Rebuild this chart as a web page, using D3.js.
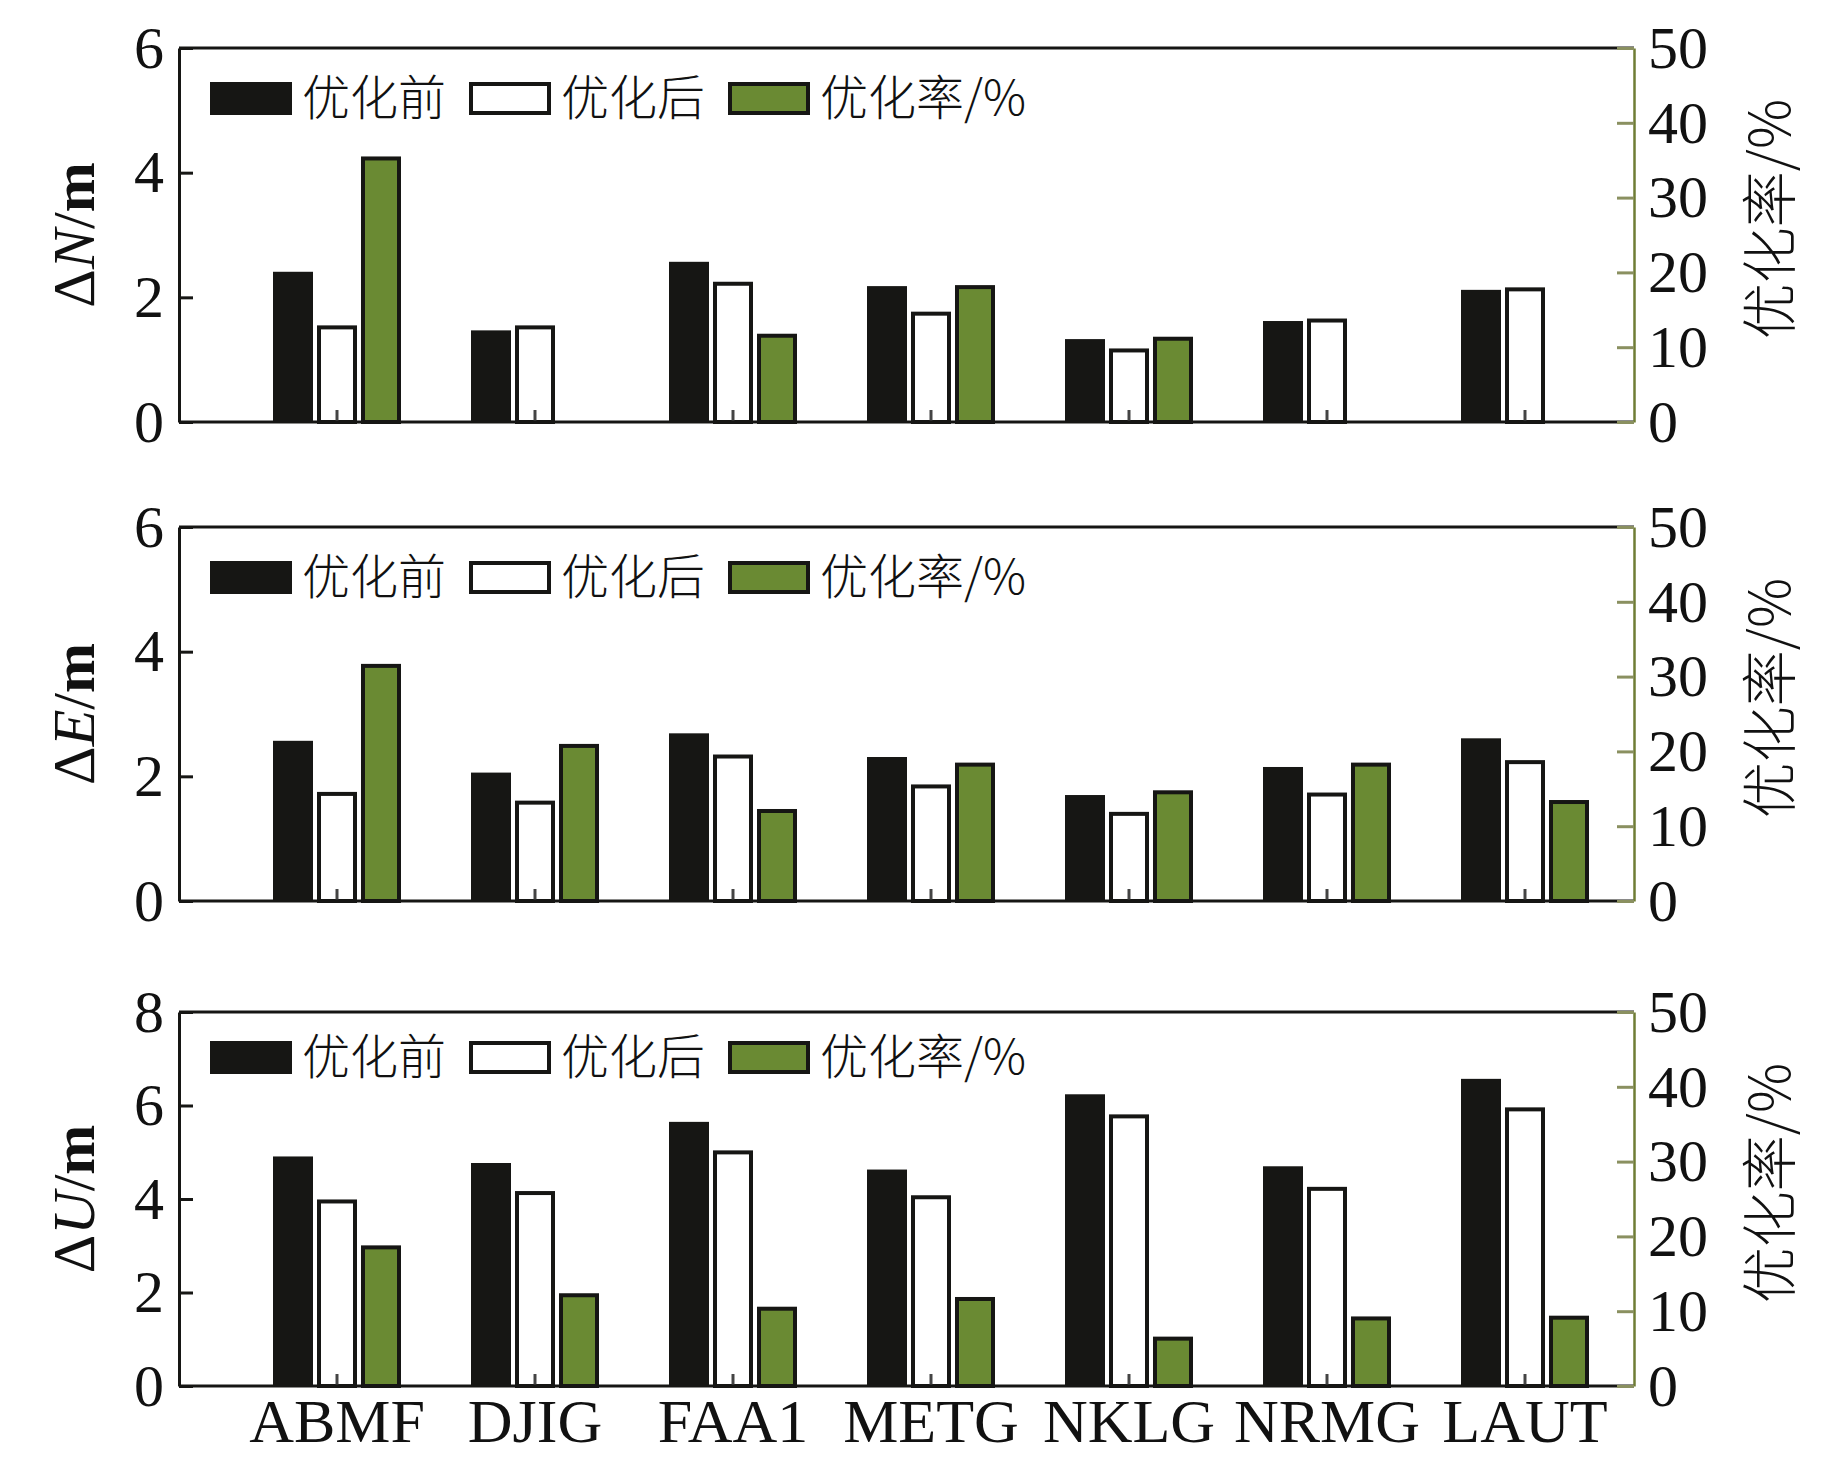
<!DOCTYPE html>
<html>
<head>
<meta charset="utf-8">
<script src="https://cdn.jsdelivr.net/npm/d3@7"></script>
<style>
  body { margin: 0; background: #fff; }
  .num { font-family: "Liberation Serif", "Times New Roman", serif; }
  .cjk { font-family: "Noto Sans CJK SC", sans-serif; font-weight: 300; }
</style>
</head>
<body>
<div id="chart"></div>
<script>
(function() {

  var width = 1843,
      height = 1465

  // data
  var categories = ["ABMF", "DJIG", "FAA1", "METG", "NKLG", "NRMG", "LAUT"]

  var nBefore = [2.41, 1.47, 2.57, 2.18, 1.33, 1.62, 2.12]
  var nAfter  = [1.55, 1.55, 2.25, 1.77, 1.18, 1.66, 2.16]
  var nRate   = [35.5, null, 11.8, 18.3, 11.4, null, null]

  var eBefore = [2.57, 2.06, 2.69, 2.31, 1.70, 2.15, 2.61]
  var eAfter  = [1.75, 1.61, 2.35, 1.87, 1.43, 1.74, 2.26]
  var eRate   = [31.7, 21.0, 12.3, 18.5, 14.8, 18.5, 13.5]

  var uBefore = [4.91, 4.77, 5.65, 4.63, 6.24, 4.70, 6.57]
  var uAfter  = [3.99, 4.17, 5.04, 4.08, 5.81, 4.26, 5.96]
  var uRate   = [18.8, 12.4, 10.6, 11.9, 6.6, 9.3, 9.4]

  var leftTicksNE = [0, 2, 4, 6]
  var leftTicksU = [0, 2, 4, 6, 8]
  var rightTicks = [0, 10, 20, 30, 40, 50]
  var legendLabels = ["优化前", "优化后", "优化率/%"]
  var rightTitle = "优化率/%"

  // layout
  var left = 179, right = 1634, panelH = 374
  var black = "#161614", green = "#6a8a33", olive = "#6f7d35"

  var panels = [
    { name: "N", before: nBefore, after: nAfter, rate: nRate, yMax: 6, ticks: leftTicksNE, top: 48, legendDy: 34, labels: false },
    { name: "E", before: eBefore, after: eAfter, rate: eRate, yMax: 6, ticks: leftTicksNE, top: 527, legendDy: 34, labels: false },
    { name: "U", before: uBefore, after: uAfter, rate: uRate, yMax: 8, ticks: leftTicksU, top: 1012, legendDy: 29, labels: true }
  ]

  var svg = d3.select("#chart")
    .append("svg")
    .attr("width", width)
    .attr("height", height)

  var xScale = d3.scaleBand().domain(categories).range([238, 1624])
  var subScale = d3.scaleBand().domain(["before", "after", "rate"]).range([-64, 64]).paddingInner(0.0909)
  var bw = subScale.bandwidth()
  var sw = 4
  var fmt = d3.format("d")

  function cx(c) { return xScale(c) + xScale.bandwidth() / 2 }

  panels.forEach(function(p) {
    var bottom = p.top + panelH
    var g = svg.append("g")

    var yScale = d3.scaleLinear().domain([0, p.yMax]).range([bottom, p.top])
    var rateScale = d3.scaleLinear().domain([0, 50]).range([bottom, p.top])

    // bars: before (solid black)
    g.selectAll(".before")
      .data(p.before)
      .enter().append("rect")
      .attr("x", function(d, i) { return cx(categories[i]) + subScale("before") })
      .attr("y", function(d) { return yScale(d) })
      .attr("width", bw)
      .attr("height", function(d) { return bottom - yScale(d) })
      .attr("fill", black)

    // after (white, outlined)
    g.selectAll(".after")
      .data(p.after)
      .enter().append("rect")
      .attr("x", function(d, i) { return cx(categories[i]) + subScale("after") + sw / 2 })
      .attr("y", function(d) { return yScale(d) + sw / 2 })
      .attr("width", bw - sw)
      .attr("height", function(d) { return bottom - yScale(d) - sw / 2 })
      .attr("fill", "#fff")
      .attr("stroke", black)
      .attr("stroke-width", sw)

    // optimisation rate (green, right axis)
    var rates = p.rate.map(function(d, i) { return { v: d, c: categories[i] } })
      .filter(function(d) { return d.v !== null })
    g.selectAll(".rate")
      .data(rates)
      .enter().append("rect")
      .attr("x", function(d) { return cx(d.c) + subScale("rate") + sw / 2 })
      .attr("y", function(d) { return rateScale(d.v) + sw / 2 })
      .attr("width", bw - sw)
      .attr("height", function(d) { return bottom - rateScale(d.v) - sw / 2 })
      .attr("fill", green)
      .attr("stroke", black)
      .attr("stroke-width", sw)

    // x axis: small inward ticks at the centres
    var xAxis = g.append("g")
      .attr("transform", "translate(0," + bottom + ")")
      .call(d3.axisBottom(xScale).tickSize(-12).tickPadding(12).tickFormat(p.labels ? null : ""))
    xAxis.select(".domain").remove()
    xAxis.selectAll(".tick line").attr("stroke", "#444").attr("stroke-width", 3)
    xAxis.selectAll("text")
      .attr("class", "num")
      .attr("font-size", 62)
      .attr("fill", "#111")

    // frame lines
    g.append("line")
      .attr("x1", left).attr("x2", right)
      .attr("y1", bottom).attr("y2", bottom)
      .attr("stroke", black).attr("stroke-width", 3)
    g.append("line")
      .attr("x1", left).attr("x2", right)
      .attr("y1", p.top).attr("y2", p.top)
      .attr("stroke", black).attr("stroke-width", 3)

    // left axis
    var yAxis = g.append("g")
      .attr("transform", "translate(" + left + ",0)")
      .call(d3.axisLeft(yScale).tickValues(p.ticks).tickFormat(fmt).tickSize(-14).tickSizeOuter(0).tickPadding(15))
    yAxis.select(".domain").attr("stroke", black).attr("stroke-width", 3)
    yAxis.selectAll(".tick line").attr("stroke", black).attr("stroke-width", 3)
    yAxis.selectAll("text")
      .attr("class", "num")
      .attr("font-size", 60)
      .attr("fill", "#111")

    // right axis
    var rAxis = g.append("g")
      .attr("transform", "translate(" + right + ",0)")
      .call(d3.axisRight(rateScale).tickValues(rightTicks).tickFormat(fmt).tickSize(-17).tickSizeOuter(0).tickPadding(14))
    rAxis.select(".domain").attr("stroke", olive).attr("stroke-width", 2.5)
    rAxis.selectAll(".tick line").attr("stroke", "#8a9060").attr("stroke-width", 3)
    rAxis.selectAll("text")
      .attr("class", "num")
      .attr("font-size", 60)
      .attr("fill", "#111")

    // axis titles
    var lt = g.append("text")
      .attr("class", "num")
      .attr("transform", "translate(74," + (p.top + panelH / 2) + ") rotate(-90)")
      .attr("text-anchor", "middle")
      .attr("dominant-baseline", "central")
      .attr("font-size", 60)
      .attr("fill", "#111")
    lt.append("tspan").text("Δ")
    lt.append("tspan").attr("font-style", "italic").text(p.name)
    lt.append("tspan").text("/")
    lt.append("tspan").attr("font-weight", "bold").text("m")

    g.append("text")
      .attr("class", "cjk")
      .attr("transform", "translate(1765," + (p.top + panelH / 2 - 16) + ") rotate(-90)")
      .attr("text-anchor", "middle")
      .attr("dominant-baseline", "central")
      .attr("font-size", 56)
      .attr("fill", "#111")
      .text(rightTitle)

    // legend
    var legendFill = [black, "#fff", green]
    var leg = g.selectAll(".legend")
      .data(legendLabels)
      .enter().append("g")
      .attr("transform", function(d, i) { return "translate(" + (210 + i * 259) + "," + (p.top + p.legendDy) + ")" })
    leg.append("rect")
      .attr("x", function(d, i) { return i === 0 ? 0 : sw / 2 })
      .attr("y", function(d, i) { return i === 0 ? 0 : sw / 2 })
      .attr("width", function(d, i) { return i === 0 ? 82 : 82 - sw })
      .attr("height", function(d, i) { return i === 0 ? 33 : 33 - sw })
      .attr("fill", function(d, i) { return legendFill[i] })
      .attr("stroke", function(d, i) { return i === 0 ? "none" : black })
      .attr("stroke-width", sw)
    leg.append("text")
      .attr("class", "cjk")
      .attr("x", 92)
      .attr("y", 12)
      .attr("dominant-baseline", "central")
      .attr("font-size", 48)
      .attr("fill", "#111")
      .text(function(d) { return d })
  })
})()
</script>
</body>
</html>
